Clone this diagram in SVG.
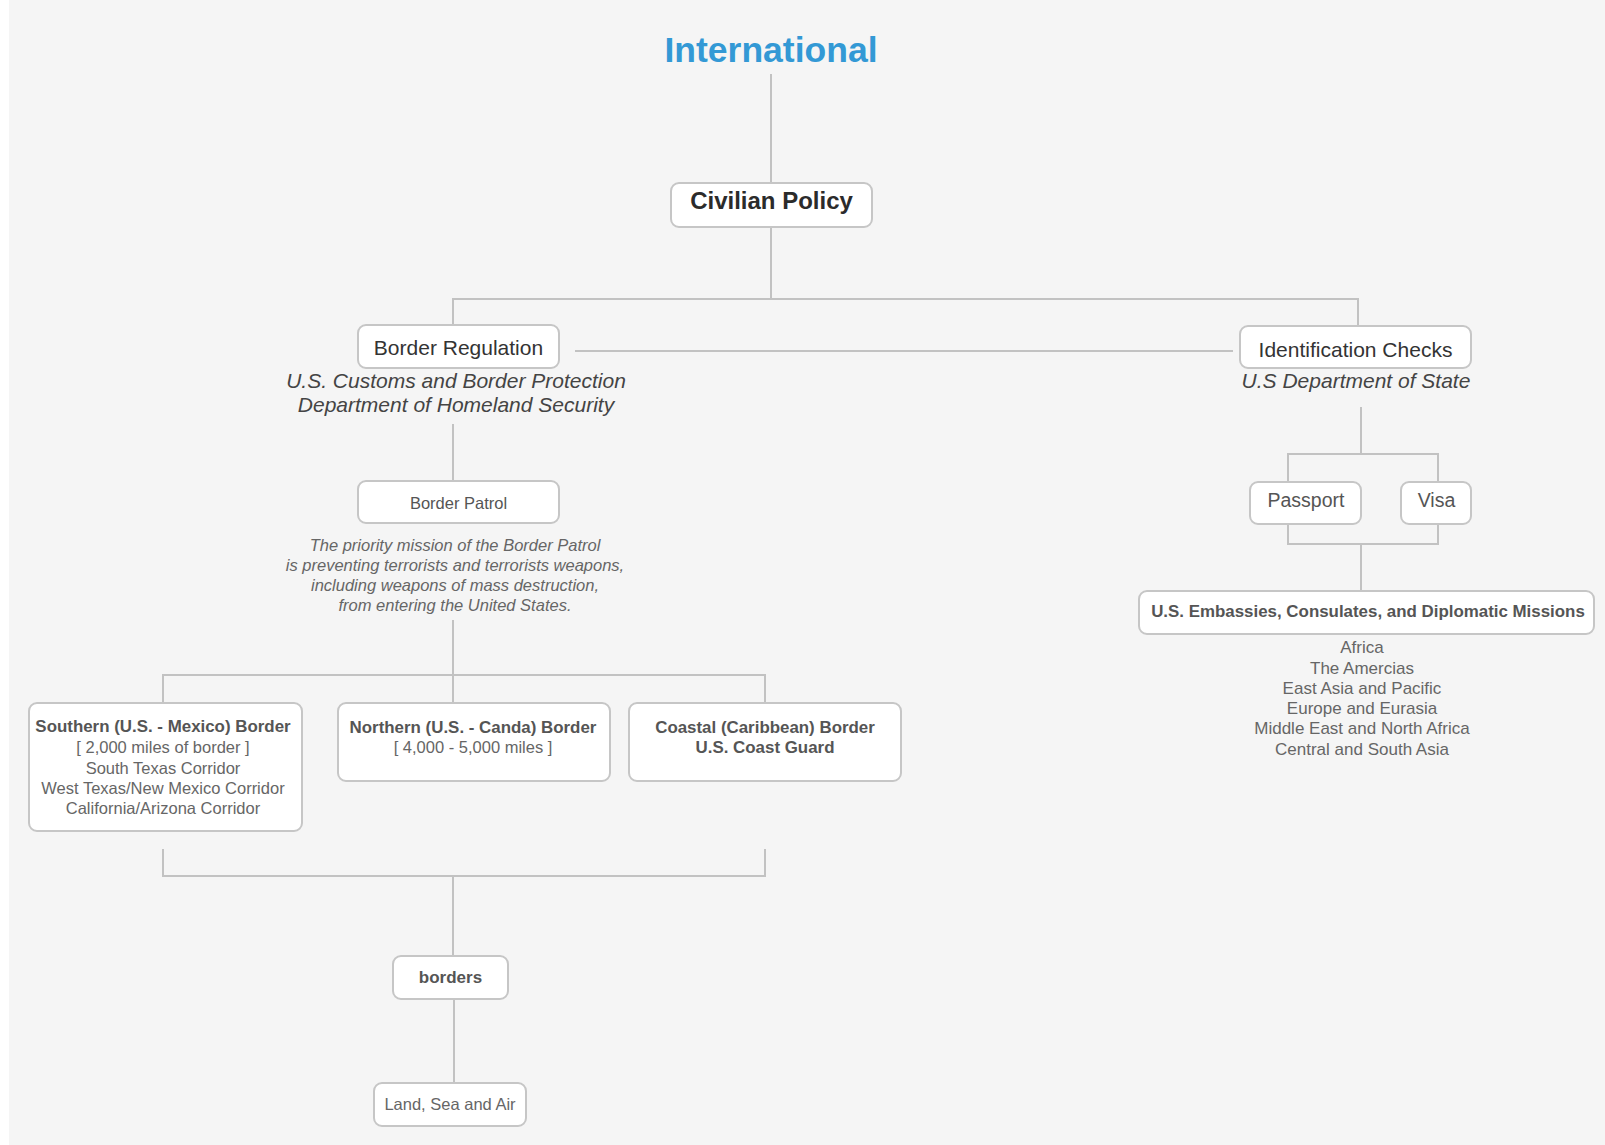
<svg xmlns="http://www.w3.org/2000/svg" width="1605" height="1145" viewBox="0 0 1605 1145">
<style>
text{font-family:"Liberation Sans",Arial,Helvetica,sans-serif;text-anchor:middle}
.box{fill:#ffffff;stroke:#c6c6c6;stroke-width:2}
.con{fill:none;stroke:#c2c2c2;stroke-width:2}
.t1{font-size:21px;fill:#333}
.sub{font-size:21px;fill:#444;font-style:italic}
.sm{font-size:16.5px;fill:#666}
.smb{font-size:16.9px;fill:#555;font-weight:bold}
.desc{font-size:16.5px;fill:#666;font-style:italic}
</style>
<rect x="0" y="0" width="1605" height="1145" fill="#ffffff"/>
<rect x="9" y="0" width="1596" height="1145" fill="#f5f5f5"/>
<g id="connectors">
<path class="con" d="M771 74V183"/>
<path class="con" d="M771 227V299"/>
<path class="con" d="M453 325V299H1358V326"/>
<path class="con" d="M575 351H1233"/>
<path class="con" d="M453 424V481"/>
<path class="con" d="M453 620V703"/>
<path class="con" d="M163 704V675H765V703"/>
<path class="con" d="M163 849V876H765V849"/>
<path class="con" d="M453 876V956"/>
<path class="con" d="M454 999V1083"/>
<path class="con" d="M1361 407V454"/>
<path class="con" d="M1288 482V454H1438V482"/>
<path class="con" d="M1288 518V544H1438V518"/>
<path class="con" d="M1361 544V591"/>
</g>
<g id="international">
<text x="771" y="62" style="font-size:35.5px;font-weight:bold;fill:#3399d5">International</text>
</g>
<g id="civilian-policy">
<rect class="box" x="671" y="183" width="201" height="44" rx="8"/>
<text x="771.5" y="209" style="font-size:24px;font-weight:bold;fill:#2b2b2b">Civilian Policy</text>
</g>
<g id="border-regulation">
<rect class="box" x="358" y="325" width="201" height="43" rx="8"/>
<text class="t1" x="458.5" y="355">Border Regulation</text>
<text class="sub" x="456" y="388">U.S. Customs and Border Protection</text>
<text class="sub" x="456" y="412">Department of Homeland Security</text>
</g>
<g id="identification-checks">
<rect class="box" x="1240" y="326" width="231" height="42" rx="8"/>
<text class="t1" x="1355.5" y="357">Identification Checks</text>
<text class="sub" x="1356" y="388">U.S Department of State</text>
</g>
<g id="border-patrol">
<rect class="box" x="358" y="481" width="201" height="42" rx="8"/>
<text class="sm" x="458.5" y="509" style="fill:#555">Border Patrol</text>
<text class="desc" x="455" y="551">The priority mission of the Border Patrol</text>
<text class="desc" x="455" y="571">is preventing terrorists and terrorists weapons,</text>
<text class="desc" x="455" y="591">including weapons of mass destruction,</text>
<text class="desc" x="455" y="611">from entering the United States.</text>
</g>
<g id="southern-border">
<rect class="box" x="29" y="703" width="273" height="128" rx="8"/>
<text class="smb" x="163" y="732">Southern (U.S. - Mexico) Border</text>
<text class="sm" x="163" y="753">[ 2,000 miles of border ]</text>
<text class="sm" x="163" y="774">South Texas Corridor</text>
<text class="sm" x="163" y="794">West Texas/New Mexico Corridor</text>
<text class="sm" x="163" y="814">California/Arizona Corridor</text>
</g>
<g id="northern-border">
<rect class="box" x="338" y="703" width="272" height="78" rx="8"/>
<text class="smb" x="473" y="733">Northern (U.S. - Canda) Border</text>
<text class="sm" x="473" y="753">[ 4,000 - 5,000 miles ]</text>
</g>
<g id="coastal-border">
<rect class="box" x="629" y="703" width="272" height="78" rx="8"/>
<text class="smb" x="765" y="733">Coastal (Caribbean) Border</text>
<text class="smb" x="765" y="753">U.S. Coast Guard</text>
</g>
<g id="borders">
<rect class="box" x="393" y="956" width="115" height="43" rx="8"/>
<text class="smb" x="450.5" y="983" style="font-size:17px">borders</text>
</g>
<g id="land-sea-air">
<rect class="box" x="374" y="1083" width="152" height="43" rx="8"/>
<text class="sm" x="450" y="1110">Land, Sea and Air</text>
</g>
<g id="passport">
<rect class="box" x="1250" y="482" width="111" height="42" rx="8"/>
<text class="sm" x="1306" y="507" style="font-size:19.5px;fill:#555">Passport</text>
</g>
<g id="visa">
<rect class="box" x="1401" y="482" width="70" height="42" rx="8"/>
<text class="sm" x="1436.5" y="507" style="font-size:19.5px;fill:#555">Visa</text>
</g>
<g id="embassies">
<rect class="box" x="1139" y="591" width="455" height="43" rx="8"/>
<text class="smb" x="1368" y="617">U.S. Embassies, Consulates, and Diplomatic Missions</text>
<text class="sm" x="1362" y="653" style="font-size:17px">Africa</text>
<text class="sm" x="1362" y="674" style="font-size:17px">The Amercias</text>
<text class="sm" x="1362" y="694" style="font-size:17px">East Asia and Pacific</text>
<text class="sm" x="1362" y="714" style="font-size:17px">Europe and Eurasia</text>
<text class="sm" x="1362" y="734" style="font-size:17px">Middle East and North Africa</text>
<text class="sm" x="1362" y="755" style="font-size:17px">Central and South Asia</text>
</g>
</svg>
